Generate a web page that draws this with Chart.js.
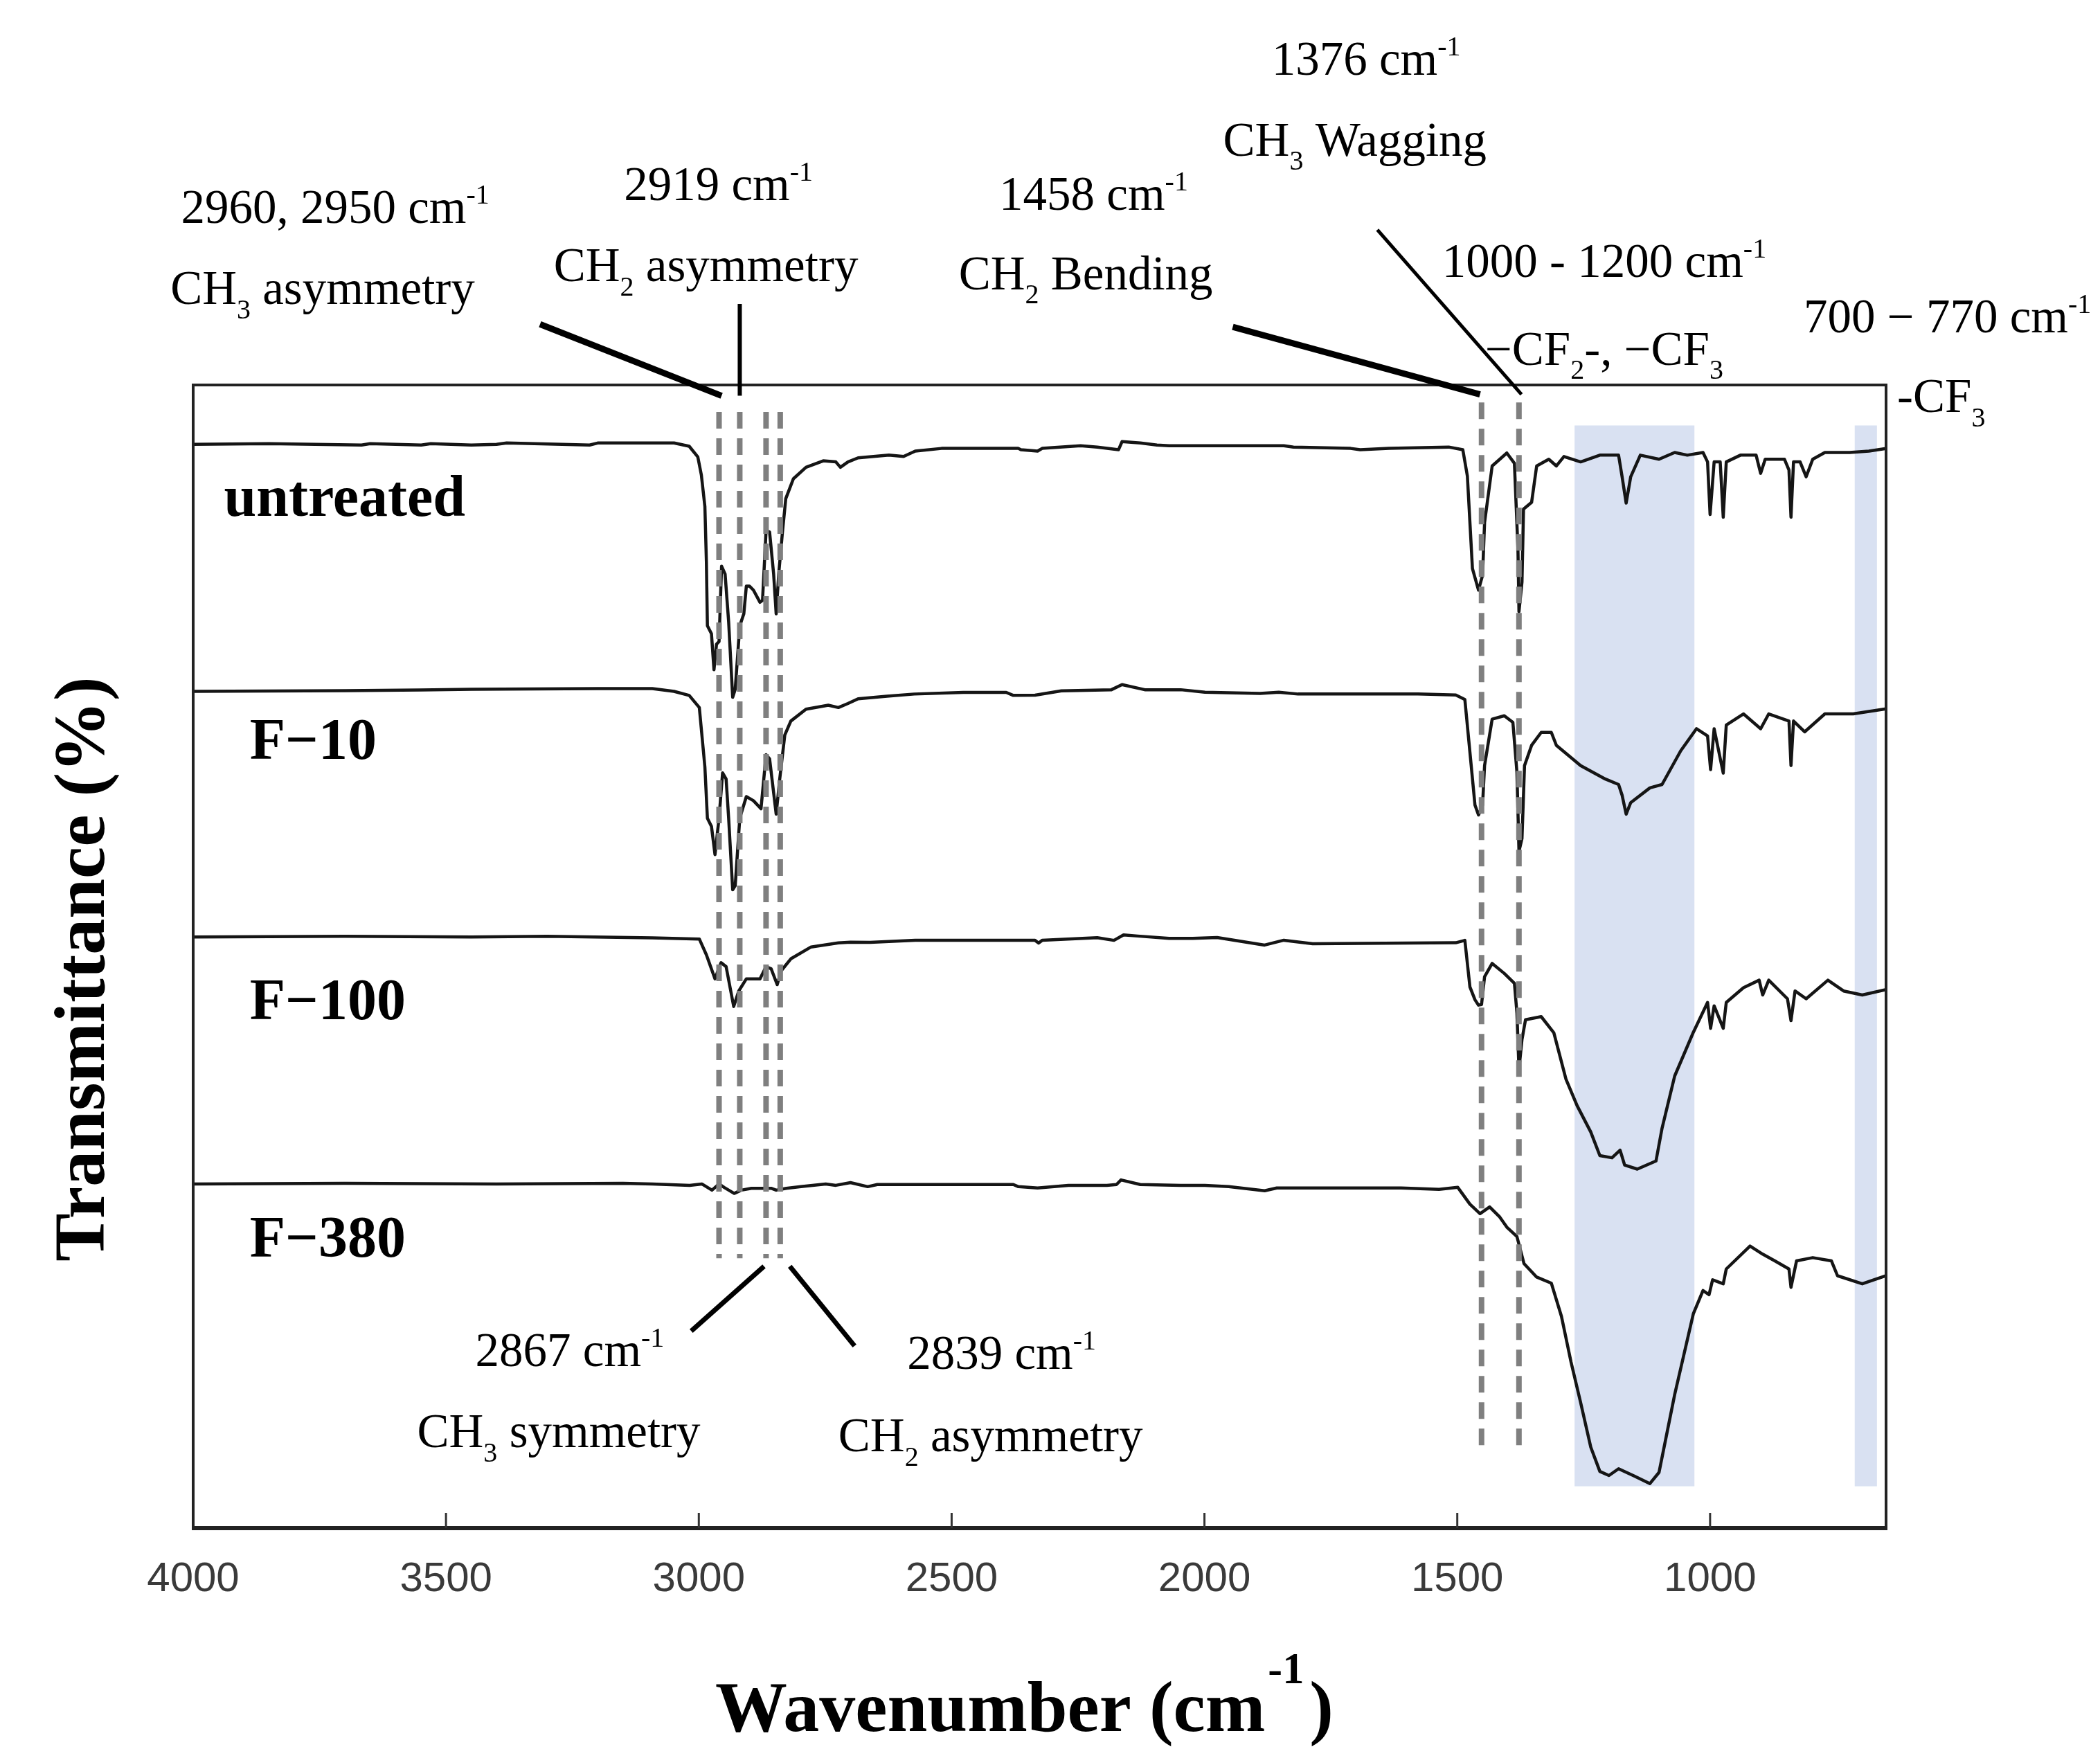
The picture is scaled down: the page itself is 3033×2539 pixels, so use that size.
<!DOCTYPE html>
<html>
<head>
<meta charset="utf-8">
<script src="https://cdn.jsdelivr.net/npm/chart.js@4.4.1/dist/chart.umd.min.js"></script>
<style>
  html, body { margin: 0; padding: 0; background: #fff; }
  #wrap { width: 3033px; height: 2539px; }
</style>
</head>
<body>
<div id="wrap"><canvas id="ftirChart" width="3033" height="2539"></canvas></div>
<script>
// FTIR spectra: [wavenumber (cm-1), transmittance (a.u., curves stacked with offsets)]
const untreated = [[4000,803],[3850,803.5],[3667,802.5],[3650,803.5],[3549,802.5],[3530,803.5],[3450,802.5],[3400,803],[3380,804],[3216,802.5],[3200,804],[3092,804],[3049,804],[3019,801.6],[3002,793.7],[2995,780.4],[2988,757],[2985,715.7],[2983,668.6],[2975,662.7],[2970,636],[2965,655],[2960,656.8],[2955,712.7],[2948,706.8],[2941,671.5],[2933,615.6],[2928,621.5],[2919,668.6],[2911,677.4],[2906,698],[2900,698],[2892,695],[2879,686],[2874,687.5],[2867,739],[2860,738],[2852,706.8],[2847,677.4],[2842,706.8],[2835,736.3],[2828,762.8],[2813,777.5],[2788,786],[2754,790.8],[2729,790],[2720,786],[2705,790],[2685,793],[2624,795],[2595,794],[2572,798],[2520,800],[2368,800],[2363,799],[2330,798],[2321,800],[2245,802],[2212,801],[2170,799],[2163,805],[2127,804],[2094,802.5],[2070,802],[1999,802],[1843,802],[1824,801],[1711,800],[1692,799],[1635,800],[1517,801],[1489,799],[1480,779.5],[1470,711],[1458,695],[1450,706],[1446,745],[1431,787],[1402,796.6],[1387,789],[1380,725.6],[1378,679],[1372,701],[1369,755],[1353,760],[1343,787],[1319,792],[1304,787],[1289,794],[1256,790],[1218,795],[1181,795],[1174,779],[1166,759.5],[1157,779],[1138,795],[1101,792],[1070,797],[1045,795],[1014,797],[1005,790],[1000,751],[992,790],[980,790],[974,749],[968,790],[940,795],[909,795],[900,781.5],[891,792],[853,792],[844,784],[840,749],[835,790],[822,790],[810,779],[797,792],[773,797],[724,797],[686,798],[652,800]];

const f10 = [[4000,620],[3700,620.5],[3550,621],[3450,621.5],[3200,622],[3092,622],[3049,620],[3019,617],[2999,608],[2988,564],[2983,526],[2975,520],[2968,499],[2960,526],[2953,559.6],[2946,555],[2941,526],[2933,473],[2928,476],[2919,526],[2906,542],[2892,539],[2877,533],[2867,573],[2860,570],[2847,529],[2840,555],[2830,587.6],[2818,598],[2788,606.8],[2744,609.7],[2724,608],[2705,611],[2685,614.5],[2628,616.4],[2574,618],[2477,619.2],[2434,619.2],[2392,619.2],[2378,617],[2335,617.2],[2283,620.4],[2184,621.2],[2163,625],[2118,621.2],[2047,621.2],[1999,619.3],[1890,618.5],[1853,619.3],[1815,618],[1578,618],[1503,617.3],[1485,614],[1475,575],[1465,535.7],[1458,528.4],[1450,535.7],[1446,565],[1431,599.4],[1407,601.9],[1390,597],[1382,560],[1378,501.4],[1372,511],[1367,565],[1353,580],[1334,589.6],[1314,589.6],[1304,580],[1256,565],[1207,555],[1181,551],[1174,543],[1166,529],[1157,537.5],[1119,548.5],[1095,551],[1058,576],[1027,592.3],[1005,587],[999,562],[992,592.3],[974,559.4],[968,595],[934,603.3],[900,592.3],[884,603.3],[844,598],[840,565],[835,598],[813,590],[773,603.3],[717,603.3],[652,607]];

const f100 = [[4000,438],[3700,438.5],[3450,438],[3300,438.5],[3092,437.4],[2999,436.5],[2985,424.8],[2968,407],[2956,419],[2946,416],[2931,386.5],[2921,398],[2906,407],[2879,407],[2867,416],[2857,414.5],[2845,402.7],[2837,413],[2818,421.8],[2778,430.6],[2724,433.6],[2700,434.2],[2661,434],[2572,435.5],[2335,435.5],[2328,433.5],[2321,435.5],[2212,437.5],[2179,435.5],[2160,439.5],[2132,438.7],[2070,437],[2023,437],[1975,437.6],[1881,432],[1843,435.6],[1786,433],[1503,433.7],[1485,435.5],[1475,401],[1465,391.5],[1458,387.5],[1452,388],[1446,408.6],[1431,418.4],[1407,411],[1387,403.7],[1382,381.6],[1378,340],[1372,362],[1365,376.7],[1334,379],[1309,367],[1285,332.6],[1263,313],[1236,293.5],[1218,276],[1194,274.4],[1178,280],[1169,269],[1144,266],[1107,272],[1095,296.3],[1070,335],[1033,367.5],[1005,389.5],[999,370.3],[992,387],[974,370.3],[968,389.5],[934,400.4],[903,406],[896,395],[884,406],[847,392.2],[840,376],[832,398],[810,392.2],[767,406],[736,398],[699,395],[652,399]];

const f380 = [[4000,255],[3700,255.5],[3400,255],[3150,255.5],[3092,255],[3018,254],[2994,255],[2974,250.4],[2960,255],[2950,252.5],[2930,248],[2916,250.4],[2896,251.8],[2857,251.8],[2847,250.4],[2827,251.8],[2798,253],[2749,255],[2729,254],[2700,256],[2666,253],[2647,254.6],[2378,254.6],[2368,253],[2330,252],[2269,254],[2193,254],[2174,254.6],[2165,258],[2127,254.6],[2047,254],[1999,254],[1952,253],[1881,250],[1857,252],[1819,252],[1611,252],[1536,251],[1499,252.5],[1475,240],[1455,233],[1436,238],[1416,230.5],[1402,223],[1382,216],[1368,196],[1343,186],[1314,181.5],[1294,157],[1275,123],[1256,93],[1236,60],[1218,42],[1200,39],[1181,44],[1150,38.6],[1119,33],[1101,41.3],[1070,99],[1033,159],[1014,176],[1002,173],[995,184],[974,181],[968,192],[921,209],[896,203],[872,198],[844,192],[840,178.4],[829,198],[797,200.4],[760,198],[748,187],[699,181],[652,187]];

const seriesNames = ["untreated", "F\u221210", "F\u2212100", "F\u2212380"];
const tickValues = [4000, 3500, 3000, 2500, 2000, 1500, 1000];
const stretchLines = [2960, 2919, 2867, 2839];
const bendLines = [1452, 1378];
const shadedBands = [[1268, 1031], [714, 670]];

const W = 3033, H = 2539;
const plotBox = { left: 279, right: 2724, top: 556, bottom: 2207 };
const serif = '"Liberation Serif", "Times New Roman", serif';

// annotation texts: anchor in data space (wavenumber, value), parts with sup/sub
const notes = [
  { at: [4024, 967], parts: [["2960, 2950 cm"], ["-1", "sup"]] },
  { at: [4045, 907], parts: [["CH"], ["3", "sub"], [" asymmetry"]] },
  { at: [3148, 984], parts: [["2919 cm"], ["-1", "sup"]] },
  { at: [3287, 924], parts: [["CH"], ["2", "sub"], [" asymmetry"]] },
  { at: [2406, 977], parts: [["1458 cm"], ["-1", "sup"]] },
  { at: [2486, 918], parts: [["CH"], ["2", "sub"], [" Bending"]] },
  { at: [1867, 1077], parts: [["1376 cm"], ["-1", "sup"]] },
  { at: [1963, 1017], parts: [["CH"], ["3", "sub"], [" Wagging"]] },
  { at: [1530, 927], parts: [["1000 - 1200 cm"], ["-1", "sup"]] },
  { at: [1445, 862], parts: [["\u2212CF"], ["2", "sub"], ["-, \u2212CF"], ["3", "sub"]] },
  { at: [815, 886], parts: [["700 \u2212 770 cm"], ["-1", "sup"]] },
  { at: [630, 827], parts: [["-CF"], ["3", "sub"]] },
  { at: [3442, 120], parts: [["2867 cm"], ["-1", "sup"]] },
  { at: [3557, 60], parts: [["CH"], ["3", "sub"], [" symmetry"]] },
  { at: [2588, 118], parts: [["2839 cm"], ["-1", "sup"]] },
  { at: [2724, 57], parts: [["CH"], ["2", "sub"], [" asymmetry"]] }
];

const leaders = [
  { from: [3314, 892], to: [2955, 839], w: 9 },
  { from: [2919, 907], to: [2919, 839], w: 6 },
  { from: [1944, 890], to: [1455, 840], w: 9 },
  { from: [1658, 962], to: [1373, 840], w: 5 },
  { from: [3015, 146], to: [2871, 194], w: 7 },
  { from: [2820, 194], to: [2692, 135], w: 7 }
];

const seriesLabels = [
  { at: [3939, 750], text: seriesNames[0] },
  { at: [3888, 570], text: seriesNames[1] },
  { at: [3888, 377], text: seriesNames[2] },
  { at: [3888, 201], text: seriesNames[3] }
];

function toXY(pairs) {
  return pairs.map(p => ({ x: p[0], y: p[1] }));
}

function drawRich(ctx, x, y, parts, size, weight) {
  let cx = x;
  parts.forEach(([txt, kind]) => {
    let s = size, dy = 0;
    if (kind === "sup") { s = size * 0.58; dy = -size * 0.4; }
    if (kind === "sub") { s = size * 0.58; dy = size * 0.3; }
    ctx.font = weight + " " + s + "px " + serif;
    ctx.fillText(txt, cx, y + dy);
    cx += ctx.measureText(txt).width;
  });
}

const decorPlugin = {
  id: "decor",
  beforeDatasetsDraw(chart) {
    const { ctx, scales: { x, y } } = chart;
    ctx.save();
    ctx.fillStyle = "rgb(217, 225, 242)";
    shadedBands.forEach(([a, b]) => {
      const x1 = x.getPixelForValue(a), x2 = x.getPixelForValue(b);
      const y1 = y.getPixelForValue(817), y2 = y.getPixelForValue(31);
      ctx.fillRect(x1, y1, x2 - x1, y2 - y1);
    });
    ctx.restore();
  },
  afterDatasetsDraw(chart) {
    const { ctx, chartArea: ca, scales: { x, y } } = chart;
    ctx.save();
    // dashed guide lines
    ctx.strokeStyle = "#7f7f7f";
    ctx.lineWidth = 8;
    ctx.setLineDash([24, 14]);
    stretchLines.forEach(w => {
      const px = x.getPixelForValue(w);
      ctx.beginPath();
      ctx.moveTo(px, y.getPixelForValue(827));
      ctx.lineTo(px, y.getPixelForValue(200));
      ctx.stroke();
    });
    bendLines.forEach(w => {
      const px = x.getPixelForValue(w);
      ctx.beginPath();
      ctx.moveTo(px, y.getPixelForValue(834));
      ctx.lineTo(px, y.getPixelForValue(61));
      ctx.stroke();
    });
    ctx.setLineDash([]);

    // frame
    ctx.strokeStyle = "#222";
    ctx.lineWidth = 4;
    ctx.strokeRect(ca.left, ca.top, ca.right - ca.left, ca.bottom - ca.top);
    ctx.lineWidth = 6;
    ctx.beginPath();
    ctx.moveTo(ca.left - 2, ca.bottom);
    ctx.lineTo(ca.right + 2, ca.bottom);
    ctx.stroke();

    // inward tick marks
    ctx.lineWidth = 3;
    ctx.strokeStyle = "#333";
    tickValues.forEach(v => {
      const px = x.getPixelForValue(v);
      if (px <= ca.left + 2) return;
      ctx.beginPath();
      ctx.moveTo(px, ca.bottom);
      ctx.lineTo(px, ca.bottom - 22);
      ctx.stroke();
    });

    // leader lines
    ctx.strokeStyle = "#000";
    leaders.forEach(l => {
      ctx.lineWidth = l.w;
      ctx.beginPath();
      ctx.moveTo(x.getPixelForValue(l.from[0]), y.getPixelForValue(l.from[1]));
      ctx.lineTo(x.getPixelForValue(l.to[0]), y.getPixelForValue(l.to[1]));
      ctx.stroke();
    });

    // annotation texts
    ctx.fillStyle = "#000";
    ctx.textBaseline = "alphabetic";
    ctx.textAlign = "left";
    notes.forEach(n => {
      drawRich(ctx, x.getPixelForValue(n.at[0]), y.getPixelForValue(n.at[1]), n.parts, 69, "normal");
    });

    // series labels
    ctx.font = "bold 84px " + serif;
    seriesLabels.forEach(s => {
      ctx.fillText(s.text, x.getPixelForValue(s.at[0]), y.getPixelForValue(s.at[1]));
    });

    // x axis title with superscript
    const titleSize = 104;
    ctx.font = "bold " + titleSize + "px " + serif;
    const mainTxt = "Wavenumber (cm";
    const wMain = ctx.measureText(mainTxt).width;
    ctx.font = "bold " + (titleSize * 0.6) + "px " + serif;
    const wSup = ctx.measureText("-1").width;
    ctx.font = "bold " + titleSize + "px " + serif;
    const total = wMain + wSup + ctx.measureText(")").width + 12;
    const tx = (ca.left + ca.right) / 2 - total / 2 - 22;
    const ty = ca.bottom + 293;
    ctx.fillText(mainTxt, tx, ty);
    ctx.font = "bold " + (titleSize * 0.6) + "px " + serif;
    ctx.fillText("-1", tx + wMain + 4, ty - titleSize * 0.66);
    ctx.font = "bold " + titleSize + "px " + serif;
    ctx.fillText(")", tx + wMain + wSup + 12, ty);

    // y axis title
    ctx.save();
    ctx.translate(ca.left - 156, (ca.top + ca.bottom) / 2 + 18);
    ctx.rotate(-Math.PI / 2);
    ctx.textAlign = "center";
    ctx.textBaseline = "middle";
    ctx.font = "bold 104px " + serif;
    ctx.fillText("Transmittance (%)", 0, 0);
    ctx.restore();

    ctx.restore();
  }
};

const lineStyle = {
  borderColor: "#151515",
  borderWidth: 4.5,
  pointRadius: 0,
  tension: 0,
  fill: false,
  borderJoinStyle: "round"
};

new Chart(document.getElementById("ftirChart"), {
  type: "line",
  data: {
    datasets: [
      Object.assign({ label: seriesNames[0], data: toXY(untreated) }, lineStyle),
      Object.assign({ label: seriesNames[1], data: toXY(f10) }, lineStyle),
      Object.assign({ label: seriesNames[2], data: toXY(f100) }, lineStyle),
      Object.assign({ label: seriesNames[3], data: toXY(f380) }, lineStyle)
    ]
  },
  options: {
    responsive: false,
    devicePixelRatio: 1,
    animation: false,
    layout: {
      padding: { left: plotBox.left, right: W - plotBox.right, top: plotBox.top, bottom: 0 }
    },
    plugins: {
      legend: { display: false },
      tooltip: { enabled: false }
    },
    scales: {
      x: {
        type: "linear",
        reverse: true,
        min: 652,
        max: 4000,
        grid: { display: false },
        border: { display: false },
        afterBuildTicks: scale => {
          scale.ticks = tickValues.map(v => ({ value: v }));
        },
        afterFit: scale => { scale.height = H - plotBox.bottom; },
        ticks: {
          includeBounds: false,
          padding: 30,
          color: "#3a3a3a",
          font: { family: '"Liberation Sans", Arial, sans-serif', size: 60 },
          maxRotation: 0,
          autoSkip: false,
          callback: v => String(v)
        }
      },
      y: {
        display: false,
        min: 0,
        max: 847
      }
    }
  },
  plugins: [decorPlugin]
});
</script>
</body>
</html>
